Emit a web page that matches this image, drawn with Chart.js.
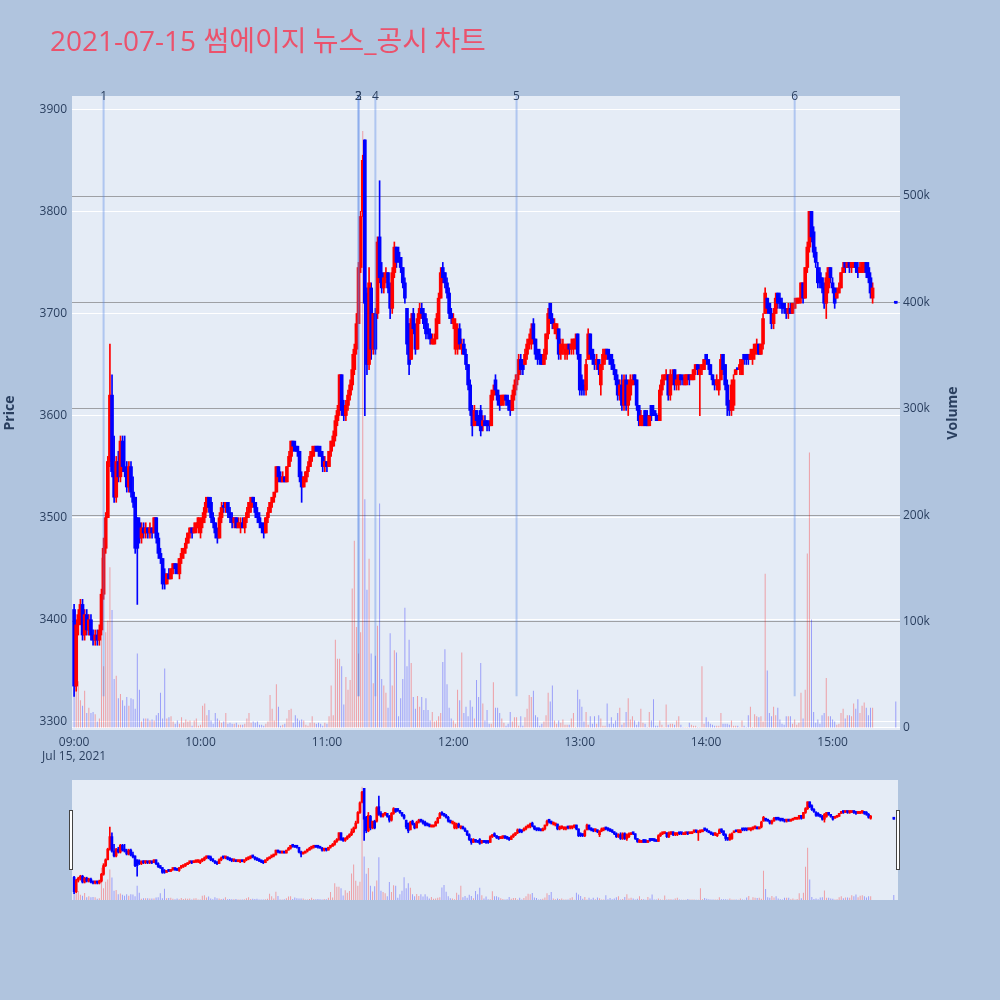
<!DOCTYPE html>
<html>
<head>
<meta charset="utf-8">
<title>썸에이지 뉴스_공시 차트</title>
<script src="https://cdn.jsdelivr.net/npm/chart.js"></script>
<style>
  body { margin: 0; width: 1000px; height: 1000px; overflow: hidden; background: #b0c4de; }
  #title { position: absolute; left: 50px; top: 25px; z-index: 2; color: #eb526c; white-space: nowrap;
           font-family: "Open Sans", "Noto Sans CJK KR", sans-serif; font-size: 28px; line-height: 28px; }
  #title .kr { font-family: "Noto Sans CJK KR", sans-serif; font-size: 28px; }
  #main { position: absolute; left: 0; top: 0; }
  #mini { position: absolute; left: 0; top: 770px; }
</style>
</head>
<body>
<div id="title">2021-07-15 <span class="kr">썸에이지 뉴스</span>_<span class="kr">공시 차트</span></div>
<canvas id="main" width="1000" height="770"></canvas>
<canvas id="mini" width="1000" height="140"></canvas>
<script>
// 1분봉, 09:00 부터 15:19 까지 (index = 09:00 이후 분)
const opens = [
  3410,3335,3395,3405,3415,3385,3405,3390,3400,3385, 3380,3385,3380,3390,3425,3470,3500,3555,3620,3545,
  3520,3555,3540,3575,3550,3545,3530,3550,3525,3520, 3500,3495,3480,3490,3485,3490,3485,3490,3485,3500,
  3480,3465,3460,3445,3435,3445,3440,3450,3455,3450, 3445,3460,3465,3470,3475,3485,3490,3485,3490,3490,
  3485,3495,3500,3510,3520,3515,3500,3495,3485,3480, 3500,3510,3510,3515,3505,3500,3495,3500,3490,3490,
  3495,3490,3500,3505,3510,3520,3515,3505,3500,3495, 3490,3485,3500,3505,3515,3520,3525,3550,3540,3535,
  3540,3535,3550,3560,3575,3570,3570,3565,3540,3530, 3535,3545,3550,3560,3565,3570,3570,3565,3560,3550,
  3555,3550,3565,3570,3580,3595,3605,3640,3610,3600, 3610,3620,3630,3645,3665,3690,3745,3800,3870,3720,
  3650,3725,3665,3700,3700,3775,3740,3725,3735,3740, 3725,3705,3740,3765,3760,3755,3745,3730,3705,3690,
  3655,3700,3685,3665,3695,3705,3700,3695,3685,3680, 3670,3670,3675,3690,3715,3745,3740,3730,3720,3700,
  3690,3665,3665,3685,3665,3670,3660,3650,3630,3605, 3590,3605,3600,3605,3590,3595,3595,3590,3590,3620,
  3635,3625,3615,3610,3615,3620,3615,3610,3605,3620, 3630,3640,3655,3650,3650,3660,3670,3670,3690,3675,
  3665,3660,3660,3650,3660,3680,3710,3695,3685,3680, 3685,3660,3665,3660,3660,3670,3665,3665,3670,3680,
  3660,3635,3630,3625,3655,3680,3665,3655,3650,3655, 3630,3650,3655,3665,3660,3660,3650,3645,3635,3620,
  3630,3610,3635,3610,3620,3630,3640,3635,3610,3590, 3590,3605,3600,3590,3610,3605,3600,3600,3595,3625,
  3635,3635,3640,3620,3635,3645,3630,3630,3640,3635, 3630,3635,3640,3635,3635,3645,3650,3640,3645,3645,
  3660,3655,3650,3640,3635,3630,3625,3635,3660,3650, 3630,3615,3605,3610,3640,3645,3645,3640,3660,3660,
  3660,3655,3655,3660,3665,3670,3660,3670,3700,3715, 3710,3700,3690,3700,3720,3715,3710,3710,3705,3700,
  3705,3700,3705,3710,3710,3715,3730,3715,3745,3765, 3800,3780,3760,3745,3740,3735,3725,3710,3725,3745,
  3730,3725,3715,3720,3725,3740,3750,3745,3750,3745, 3745,3750,3745,3740,3740,3745,3750,3745,3735,3715
];
const highs = [
  3415,3400,3410,3420,3420,3410,3410,3405,3405,3390, 3390,3390,3395,3430,3480,3505,3560,3670,3640,3580,
  3560,3565,3580,3580,3580,3555,3555,3555,3540,3520, 3500,3500,3495,3495,3495,3490,3495,3490,3500,3500,
  3485,3470,3460,3450,3445,3450,3450,3455,3455,3455, 3460,3470,3470,3480,3485,3490,3490,3495,3495,3500,
  3500,3505,3515,3520,3520,3520,3505,3495,3490,3505, 3515,3515,3515,3515,3510,3505,3500,3500,3500,3500,
  3500,3500,3510,3515,3520,3520,3515,3510,3505,3495, 3495,3500,3510,3515,3520,3525,3550,3550,3545,3545,
  3540,3550,3565,3575,3575,3575,3570,3565,3545,3540, 3545,3555,3565,3570,3570,3570,3570,3570,3565,3560,
  3555,3565,3575,3585,3600,3610,3640,3640,3615,3615, 3625,3635,3660,3670,3700,3750,3800,3855,3870,3725,
  3745,3730,3700,3705,3775,3830,3750,3740,3745,3740, 3730,3745,3770,3765,3765,3755,3745,3735,3705,3690,
  3700,3705,3690,3700,3710,3710,3705,3700,3690,3685, 3680,3680,3700,3720,3745,3750,3740,3735,3725,3705,
  3700,3695,3690,3690,3675,3675,3665,3650,3635,3610, 3610,3605,3600,3610,3600,3600,3595,3595,3625,3630,
  3640,3625,3620,3620,3620,3620,3620,3615,3625,3635, 3640,3660,3660,3655,3665,3675,3680,3690,3695,3675,
  3665,3665,3660,3665,3680,3705,3710,3700,3695,3690, 3685,3675,3675,3670,3670,3670,3675,3675,3680,3680,
  3660,3640,3635,3655,3685,3680,3665,3660,3660,3655, 3650,3665,3665,3665,3665,3660,3655,3645,3640,3635,
  3640,3640,3640,3635,3640,3640,3640,3635,3610,3605, 3600,3605,3605,3600,3610,3610,3605,3600,3630,3640,
  3640,3645,3640,3645,3645,3645,3640,3640,3640,3640, 3640,3640,3640,3640,3645,3650,3650,3650,3650,3655,
  3660,3655,3650,3640,3635,3640,3635,3660,3660,3650, 3635,3615,3635,3640,3645,3645,3655,3655,3660,3660,
  3660,3665,3665,3670,3675,3670,3670,3700,3725,3715, 3710,3705,3705,3720,3720,3720,3715,3710,3705,3710,
  3710,3710,3715,3715,3715,3730,3730,3745,3770,3800, 3800,3785,3765,3750,3745,3735,3730,3740,3745,3745,
  3735,3725,3725,3730,3740,3750,3750,3750,3750,3750, 3750,3750,3750,3750,3750,3750,3750,3750,3740,3730
];
const lows = [
  3325,3330,3385,3395,3380,3380,3385,3385,3380,3375, 3375,3375,3375,3385,3420,3465,3500,3550,3540,3515,
  3515,3535,3535,3545,3540,3525,3525,3520,3510,3465, 3415,3475,3475,3480,3480,3480,3480,3480,3485,3475,
  3460,3455,3430,3430,3435,3440,3440,3445,3445,3445, 3440,3455,3460,3465,3475,3480,3480,3485,3485,3485,
  3480,3490,3495,3505,3505,3495,3490,3480,3475,3480, 3495,3505,3505,3500,3495,3490,3490,3490,3490,3485,
  3490,3485,3495,3500,3505,3510,3500,3495,3490,3485, 3480,3485,3495,3505,3510,3515,3525,3535,3535,3535,
  3535,3535,3550,3555,3565,3565,3560,3535,3515,3530, 3535,3540,3550,3555,3560,3565,3560,3560,3545,3545,
  3545,3550,3560,3570,3575,3590,3600,3600,3595,3595, 3605,3615,3625,3640,3660,3690,3740,3795,3600,3640,
  3645,3655,3660,3660,3695,3730,3720,3720,3730,3720, 3695,3700,3735,3745,3750,3740,3725,3710,3660,3640,
  3655,3680,3660,3665,3690,3695,3685,3675,3675,3670, 3670,3670,3675,3690,3715,3730,3725,3715,3695,3690,
  3685,3660,3660,3665,3660,3660,3645,3625,3600,3580, 3590,3590,3590,3580,3585,3590,3585,3585,3590,3615,
  3620,3610,3605,3610,3610,3610,3605,3600,3605,3615, 3625,3635,3640,3640,3650,3655,3665,3665,3670,3655,
  3650,3650,3650,3650,3655,3675,3690,3685,3680,3675, 3655,3655,3660,3655,3655,3660,3660,3660,3665,3655,
  3620,3620,3620,3620,3655,3655,3650,3645,3645,3640, 3620,3645,3650,3655,3650,3645,3640,3630,3615,3615,
  3605,3605,3605,3600,3615,3630,3630,3605,3590,3590, 3590,3590,3590,3590,3595,3600,3595,3595,3595,3620,
  3630,3635,3615,3615,3630,3625,3625,3625,3630,3630, 3630,3630,3630,3635,3635,3640,3640,3600,3640,3645,
  3650,3645,3640,3630,3625,3625,3620,3635,3640,3625, 3600,3600,3600,3605,3640,3645,3640,3640,3650,3650,
  3650,3655,3650,3655,3660,3660,3660,3665,3700,3700, 3700,3685,3685,3700,3705,3705,3700,3700,3695,3695,
  3700,3700,3705,3710,3710,3710,3710,3715,3740,3760, 3770,3755,3745,3725,3725,3720,3705,3695,3720,3730,
  3720,3705,3715,3720,3725,3740,3740,3745,3740,3740, 3745,3740,3735,3740,3740,3740,3735,3730,3715,3710
];
const closes = [
  3335,3395,3405,3415,3385,3405,3390,3400,3385,3380, 3385,3380,3390,3425,3470,3500,3555,3620,3545,3520,
  3555,3540,3575,3550,3545,3530,3550,3525,3515,3470, 3470,3480,3490,3485,3490,3485,3490,3485,3500,3480,
  3465,3460,3435,3435,3445,3440,3450,3455,3450,3445, 3460,3465,3470,3475,3485,3490,3485,3490,3495,3500,
  3495,3500,3510,3520,3510,3500,3495,3485,3480,3500, 3510,3510,3515,3505,3500,3495,3500,3490,3495,3495,
  3490,3500,3505,3515,3520,3515,3505,3500,3495,3490, 3485,3500,3505,3515,3520,3525,3550,3540,3535,3540,
  3535,3550,3560,3575,3570,3565,3565,3540,3530,3540, 3545,3550,3560,3565,3570,3565,3565,3560,3550,3555,
  3550,3565,3575,3580,3595,3605,3640,3605,3600,3610, 3620,3630,3645,3665,3690,3745,3795,3850,3710,3650,
  3730,3665,3700,3665,3770,3735,3725,3735,3740,3725, 3705,3740,3765,3750,3755,3745,3730,3715,3670,3650,
  3695,3685,3665,3695,3705,3700,3690,3680,3680,3675, 3675,3675,3695,3715,3740,3735,3730,3720,3700,3695,
  3695,3690,3685,3670,3670,3660,3650,3630,3605,3590, 3605,3595,3590,3585,3595,3590,3590,3590,3620,3625,
  3625,3615,3610,3620,3620,3615,3610,3605,3620,3630, 3640,3655,3645,3645,3660,3670,3675,3685,3675,3660,
  3655,3655,3650,3660,3680,3700,3695,3690,3690,3690, 3660,3670,3670,3665,3670,3665,3670,3675,3675,3660,
  3625,3625,3625,3650,3680,3660,3655,3650,3655,3645, 3650,3660,3665,3660,3655,3650,3645,3635,3620,3630,
  3610,3635,3610,3630,3635,3635,3635,3610,3595,3600, 3600,3590,3590,3600,3600,3600,3600,3595,3625,3635,
  3640,3640,3620,3640,3640,3630,3635,3640,3635,3635, 3640,3640,3635,3640,3645,3650,3645,3645,3650,3655,
  3655,3650,3640,3635,3630,3635,3635,3655,3645,3630, 3610,3605,3630,3635,3645,3645,3650,3655,3655,3655,
  3655,3660,3665,3670,3670,3660,3670,3695,3720,3705, 3700,3690,3700,3715,3710,3710,3705,3705,3700,3705,
  3700,3710,3710,3715,3715,3730,3715,3745,3765,3800, 3775,3760,3750,3730,3730,3725,3710,3735,3745,3735,
  3725,3710,3720,3725,3740,3745,3745,3750,3745,3750, 3750,3745,3740,3745,3750,3750,3740,3735,3720,3725
];
const volumes = [
  37000,47000,44000,26000,21000,35000,14000,19000,14000,15000, 13000,6000,9000,160000,58000,90000,101000,151000,111000,46000,
  49000,28000,32000,26000,21000,29000,21000,28000,27000,18000, 70000,36000,6000,9000,9000,9000,7000,8000,7000,12000,
  14000,33000,9000,56000,9000,10000,11000,6000,4000,7000, 4000,10000,5000,8000,6000,7000,2000,7000,9000,2000,
  3000,21000,23000,12000,17000,7000,4000,14000,9000,7000, 5000,6000,14000,4000,5000,4000,4000,5000,3000,3000,
  3000,4000,9000,14000,5000,6000,5000,6000,3000,3000, 2000,4000,6000,31000,18000,7000,41000,20000,2000,3000,
  4000,9000,17000,18000,5000,12000,9000,7000,8000,7000, 3000,2000,5000,11000,5000,4000,5000,4000,2000,5000,
  4000,11000,40000,12000,83000,65000,65000,58000,22000,48000, 36000,45000,131000,176000,95000,70000,90000,561000,215000,130000,
  159000,70000,42000,68000,96000,211000,46000,40000,33000,19000, 89000,40000,73000,71000,11000,28000,46000,113000,58000,83000,
  61000,29000,18000,30000,20000,29000,17000,28000,17000,7000, 15000,6000,7000,11000,14000,62000,74000,41000,19000,9000,
  7000,4000,36000,26000,71000,14000,20000,11000,26000,20000, 9000,45000,29000,61000,23000,7000,17000,4000,4000,43000,
  19000,19000,14000,9000,5000,2000,4000,15000,6000,10000, 10000,2000,11000,2000,10000,18000,31000,29000,35000,12000,
  10000,2000,4000,6000,12000,33000,25000,40000,7000,4000, 7000,5000,8000,3000,3000,3000,9000,14000,1000,36000,
  27000,20000,6000,15000,3000,11000,4000,11000,4000,12000, 9000,2000,2000,23000,4000,10000,4000,7000,14000,19000,
  3000,5000,15000,28000,8000,11000,7000,3000,6000,18000, 5000,4000,1000,15000,7000,27000,2000,2000,7000,3000,
  1000,22000,3000,4000,4000,3000,7000,11000,3000,1000, 1000,1000,5000,3000,2000,2000,1000,1000,58000,4000,
  10000,6000,4000,3000,2000,2000,2000,14000,4000,4000, 4000,3000,7000,2000,2000,2000,1000,7000,2000,1000,
  12000,20000,1000,13000,11000,10000,11000,6000,145000,54000, 14000,11000,20000,12000,19000,8000,4000,3000,11000,11000,
  11000,4000,8000,3000,5000,33000,9000,36000,164000,259000, 102000,15000,5000,8000,4000,12000,14000,47000,11000,11000,
  8000,6000,3000,4000,14000,18000,9000,12000,12000,11000, 23000,18000,27000,14000,21000,24000,19000,12000,19000,19000
];

// 15:30 종가 단일가
const auctionMinute = 390;
const auctionPrice = 3710;
const auctionVolume = 25000;

// 뉴스/공시 시각 (09:00 이후 분)
const newsLabels = ['1', '2', '3', '4', '5', '6'];
const newsMinutes = [14, 135, 135, 143, 210, 342];

const hourTicks = [0, 60, 120, 180, 240, 300, 360];
const hourLabels = ['09:00', '10:00', '11:00', '12:00', '13:00', '14:00', '15:00'];
const dateLabel = 'Jul 15, 2021';
const priceTicks = [3300, 3400, 3500, 3600, 3700, 3800, 3900];
const volumeTicks = [0, 100000, 200000, 300000, 400000, 500000];
const volumeTickLabels = ['0', '100k', '200k', '300k', '400k', '500k'];

const UP = '#ff0000';
const DOWN = '#0000ff';
const UP_VOL = 'rgba(255,0,0,0.33)';
const DOWN_VOL = 'rgba(0,0,255,0.33)';
const TICK_COLOR = '#2a3f5f';
const FONT = '"Open Sans", "Noto Sans", sans-serif';

const xs = opens.map((_, i) => i).concat([auctionMinute]);
const O = opens.concat([auctionPrice]);
const H = highs.concat([auctionPrice]);
const L = lows.concat([auctionPrice]);
const C = closes.concat([auctionPrice]);
const V = volumes.concat([auctionVolume]);
const isUp = C.map((c, i) => c > O[i]);

function buildDatasets(bodyWidth, wickWidth, volWidth) {
  return [
    {
      label: 'body', yAxisID: 'y', order: 0, grouped: false,
      data: xs.map((x, i) => ({ x: x, y: [Math.min(O[i], C[i]), Math.max(O[i], C[i])] })),
      backgroundColor: isUp.map(u => u ? UP : DOWN),
      barThickness: bodyWidth, minBarLength: 2, borderWidth: 0
    },
    {
      label: 'wick', yAxisID: 'y', order: 1, grouped: false,
      data: xs.map((x, i) => ({ x: x, y: [L[i], H[i]] })),
      backgroundColor: isUp.map(u => u ? UP : DOWN),
      barThickness: wickWidth, minBarLength: 1, borderWidth: 0
    },
    {
      label: 'Volume', yAxisID: 'yv', order: 2, grouped: false,
      data: xs.map((x, i) => ({ x: x, y: V[i] })),
      backgroundColor: isUp.map(u => u ? UP_VOL : DOWN_VOL),
      barThickness: volWidth, borderWidth: 0, inflateAmount: 0
    }
  ];
}

const plotBg = {
  id: 'plotBg',
  beforeDraw(chart, args, opts) {
    const { ctx, chartArea: a } = chart;
    ctx.save();
    ctx.fillStyle = opts.color || '#e5ecf6';
    ctx.fillRect(a.left, a.top, a.right - a.left, a.bottom - a.top);
    ctx.restore();
  }
};

const newsMarks = {
  id: 'newsMarks',
  afterDatasetsDraw(chart) {
    const { ctx, chartArea: a, scales } = chart;
    const yEnd = scales.y.getPixelForValue(3325);
    ctx.save();
    ctx.strokeStyle = 'rgba(80,130,230,0.36)';
    ctx.lineWidth = 2;
    newsMinutes.forEach(m => {
      const x = scales.x.getPixelForValue(m);
      ctx.beginPath();
      ctx.moveTo(x, a.top);
      ctx.lineTo(x, yEnd);
      ctx.stroke();
    });
    ctx.fillStyle = TICK_COLOR;
    ctx.font = '12px ' + FONT;
    ctx.textAlign = 'center';
    ctx.textBaseline = 'middle';
    newsMinutes.forEach((m, i) => {
      ctx.fillText(newsLabels[i], scales.x.getPixelForValue(m), a.top + 1);
    });
    ctx.restore();
  }
};

const axisTitles = {
  id: 'axisTitles',
  afterDraw(chart) {
    const { ctx, chartArea: a } = chart;
    const midY = (a.top + a.bottom) / 2;
    ctx.save();
    ctx.fillStyle = TICK_COLOR;
    ctx.font = 'bold 14px ' + FONT;
    ctx.textAlign = 'center';
    ctx.textBaseline = 'middle';
    [['Price', 10], ['Volume', 953]].forEach(([txt, x]) => {
      ctx.save();
      ctx.translate(x, midY);
      ctx.rotate(-Math.PI / 2);
      ctx.fillText(txt, 0, 0);
      ctx.restore();
    });
    ctx.restore();
  }
};

const sliderHandles = {
  id: 'sliderHandles',
  afterDraw(chart) {
    const { ctx, chartArea: a } = chart;
    ctx.save();
    ctx.fillStyle = '#ffffff';
    ctx.strokeStyle = '#444';
    ctx.lineWidth = 1;
    [a.left - 3, a.right - 2].forEach(x => {
      ctx.fillRect(x, a.top + 30, 4, 60);
      ctx.strokeRect(x + 0.5, a.top + 30.5, 3, 59);
    });
    ctx.restore();
  }
};

const tickFont = { family: FONT, size: 12 };

new Chart(document.getElementById('main'), {
  type: 'bar',
  data: { datasets: buildDatasets(3, 1, 1) },
  options: {
    responsive: false,
    animation: false,
    devicePixelRatio: 1,
    events: [],
    layout: { padding: { top: 96, left: 0, right: 0, bottom: 0 } },
    plugins: {
      legend: { display: false },
      tooltip: { enabled: false },
      plotBg: { color: '#e5ecf6' }
    },
    scales: {
      x: {
        type: 'linear', min: -1, max: 392, offset: false,
        grid: { display: false, drawTicks: false, tickLength: 0 },
        border: { display: false },
        afterBuildTicks: s => { s.ticks = hourTicks.map(v => ({ value: v })); },
        afterFit: s => { s.height = 40; },
        ticks: {
          padding: 5, color: TICK_COLOR, font: tickFont, autoSkip: false, maxRotation: 0,
          callback: (v, i) => i === 0 ? [hourLabels[0], dateLabel] : hourLabels[i]
        }
      },
      y: {
        position: 'left', min: 3292, max: 3913,
        grid: { color: '#ffffff', lineWidth: 1, drawTicks: false, tickLength: 0 },
        border: { display: false },
        afterBuildTicks: s => { s.ticks = priceTicks.map(v => ({ value: v })); },
        afterFit: s => { s.width = 72; },
        ticks: { padding: 5, color: TICK_COLOR, font: tickFont, callback: v => String(v) }
      },
      yv: {
        position: 'right', min: -1900, max: 594000,
        grid: {
          color: c => (c.tick && c.tick.value === 0) ? '#ffffff' : 'rgba(110,110,110,0.6)',
          lineWidth: 1, drawTicks: false, tickLength: 0
        },
        border: { display: false },
        afterBuildTicks: s => { s.ticks = volumeTicks.map(v => ({ value: v })); },
        afterFit: s => { s.width = 100; },
        ticks: { padding: 3, color: TICK_COLOR, font: tickFont, callback: (v, i) => volumeTickLabels[i] }
      }
    }
  },
  plugins: [plotBg, newsMarks, axisTitles]
});

// 하단 레인지 슬라이더
new Chart(document.getElementById('mini'), {
  type: 'bar',
  data: { datasets: buildDatasets(2, 1, 1) },
  options: {
    responsive: false,
    animation: false,
    devicePixelRatio: 1,
    events: [],
    layout: { padding: { top: 10, left: 72, right: 102, bottom: 10 } },
    plugins: {
      legend: { display: false },
      tooltip: { enabled: false },
      plotBg: { color: '#e5ecf6' }
    },
    scales: {
      x: { type: 'linear', min: -1, max: 392, offset: false, display: false },
      y: { min: 3292, max: 3913, display: false },
      yv: { min: 0, max: 594000, display: false }
    }
  },
  plugins: [plotBg, sliderHandles]
});
</script>
</body>
</html>
